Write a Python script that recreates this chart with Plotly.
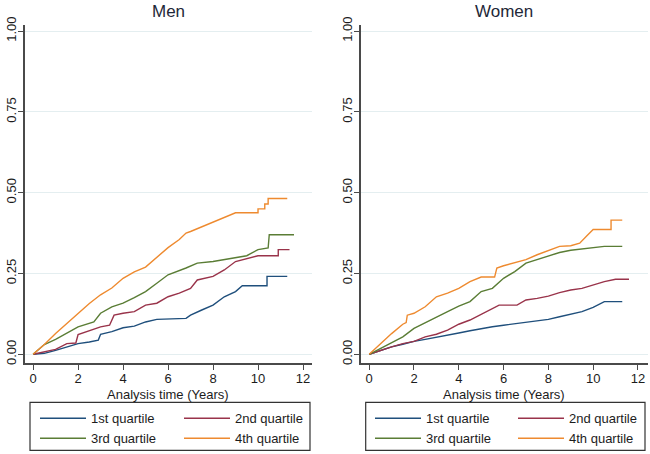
import plotly.graph_objects as go

# ---------------- data ----------------
quartiles = ["1st quartile", "2nd quartile", "3rd quartile", "4th quartile"]
colors = ["#1f4f7c", "#99334a", "#5a7d35", "#ee8a2f"]

# Men (time in years, cumulative failure)
men_t_q1 = [0, 0.5, 1, 1.5, 2, 2.5, 2.9, 3.0, 3.5, 4, 4.5, 5, 5.5, 6.8, 7.0, 7.5, 8, 8.5, 9, 9.3, 10.4, 10.4, 11.3]
men_y_q1 = [0, 0.003, 0.012, 0.023, 0.033, 0.038, 0.044, 0.062, 0.07, 0.082, 0.087, 0.1, 0.108, 0.111, 0.121, 0.137, 0.152, 0.178, 0.194, 0.212, 0.212, 0.241, 0.241]

men_t_q2 = [0, 0.5, 1, 1.5, 1.9, 2.0, 2.5, 3, 3.4, 3.6, 4, 4.5, 5, 5.5, 6, 6.5, 7, 7.3, 8, 8.5, 9, 9.5, 10, 10.9, 10.9, 11.4]
men_y_q2 = [0, 0.008, 0.015, 0.033, 0.035, 0.061, 0.073, 0.085, 0.09, 0.121, 0.127, 0.132, 0.152, 0.158, 0.178, 0.189, 0.204, 0.23, 0.241, 0.261, 0.287, 0.295, 0.305, 0.305, 0.324, 0.324]

men_t_q3 = [0, 0.5, 1, 1.5, 2, 2.7, 3, 3.5, 4, 4.5, 5, 5.5, 6, 6.8, 7.3, 8, 9, 9.5, 10, 10.45, 10.5, 11.6]
men_y_q3 = [0, 0.03, 0.046, 0.065, 0.085, 0.1, 0.127, 0.147, 0.158, 0.175, 0.194, 0.22, 0.246, 0.267, 0.282, 0.287, 0.298, 0.305, 0.324, 0.329, 0.37, 0.37]

men_t_q4 = [0, 0.5, 1, 1.5, 2, 2.5, 3, 3.5, 4, 4.5, 5, 5.5, 6, 6.5, 6.8, 7, 7.5, 8, 8.5, 9, 10, 10, 10.3, 10.3, 10.45, 10.45, 11.3]
men_y_q4 = [0, 0.03, 0.064, 0.095, 0.127, 0.157, 0.184, 0.205, 0.235, 0.255, 0.27, 0.3, 0.33, 0.355, 0.375, 0.38, 0.395, 0.41, 0.425, 0.438, 0.438, 0.45, 0.45, 0.465, 0.465, 0.482, 0.482]

# Women
wom_t_q1 = [0, 0.5, 1, 1.5, 2, 2.5, 3, 3.5, 4, 4.5, 5, 5.5, 6, 6.5, 7, 7.5, 8, 8.5, 9, 9.5, 10, 10.5, 11.3]
wom_y_q1 = [0, 0.012, 0.023, 0.031, 0.04, 0.046, 0.052, 0.059, 0.066, 0.073, 0.08, 0.085, 0.09, 0.095, 0.099, 0.104, 0.108, 0.116, 0.123, 0.132, 0.145, 0.163, 0.163]

wom_t_q2 = [0, 0.5, 1, 1.5, 2, 2.5, 3, 3.5, 4, 4.5, 5, 5.5, 5.8, 6.6, 7, 7.5, 8, 8.5, 9, 9.5, 10, 10.5, 11, 11.6]
wom_y_q2 = [0, 0.012, 0.023, 0.033, 0.04, 0.054, 0.062, 0.075, 0.093, 0.106, 0.124, 0.142, 0.152, 0.152, 0.168, 0.173, 0.18, 0.191, 0.199, 0.204, 0.215, 0.225, 0.232, 0.232]

wom_t_q3 = [0, 0.5, 1, 1.5, 2, 2.5, 3, 3.5, 4, 4.5, 5, 5.5, 6, 6.5, 7, 7.5, 8, 8.5, 9, 9.5, 10, 10.5, 11.3]
wom_y_q3 = [0, 0.018, 0.035, 0.054, 0.08, 0.098, 0.114, 0.132, 0.149, 0.163, 0.194, 0.204, 0.235, 0.256, 0.282, 0.293, 0.303, 0.315, 0.322, 0.326, 0.329, 0.334, 0.334]

wom_t_q4 = [0, 0.5, 1, 1.5, 1.65, 1.7, 2, 2.5, 3, 3.5, 4, 4.5, 5, 5.6, 5.7, 6, 6.5, 7, 7.5, 8, 8.5, 9, 9.4, 9.7, 10, 10.8, 10.8, 11.3]
wom_y_q4 = [0, 0.033, 0.064, 0.093, 0.098, 0.121, 0.127, 0.147, 0.178, 0.189, 0.204, 0.225, 0.239, 0.239, 0.267, 0.274, 0.284, 0.293, 0.308, 0.322, 0.334, 0.336, 0.344, 0.365, 0.386, 0.386, 0.415, 0.415]

x_ticks = [0, 2, 4, 6, 8, 10, 12]
y_ticks = [0, 0.25, 0.5, 0.75, 1.0]
y_ticktext = ["0.00", "0.25", "0.50", "0.75", "1.00"]
panel_titles = ["Men", "Women"]
x_title = "Analysis time (Years)"

# ---------------- figure ----------------
W, H = 650, 454
ML, MR, MT, MB = 25, 2, 25, 91.3
PW = W - ML - MR
PH = H - MT - MB

def px_x(p):
    return (p - ML) / PW

def px_y(p):
    return (H - MB - p) / PH

FONT = "Liberation Sans, Arial, sans-serif"
TXT = "#1c1c1c"

fig = go.Figure()

men = [(men_t_q1, men_y_q1), (men_t_q2, men_y_q2), (men_t_q3, men_y_q3), (men_t_q4, men_y_q4)]
wom = [(wom_t_q1, wom_y_q1), (wom_t_q2, wom_y_q2), (wom_t_q3, wom_y_q3), (wom_t_q4, wom_y_q4)]

men_legends = ["legend", "legend2", "legend", "legend2"]
wom_legends = ["legend3", "legend4", "legend3", "legend4"]

for i, (t, y) in enumerate(men):
    fig.add_trace(go.Scatter(x=t, y=y, mode="lines", name=quartiles[i],
                             line=dict(color=colors[i], width=1.4),
                             xaxis="x", yaxis="y", legend=men_legends[i]))
for i, (t, y) in enumerate(wom):
    fig.add_trace(go.Scatter(x=t, y=y, mode="lines", name=quartiles[i],
                             line=dict(color=colors[i], width=1.4),
                             xaxis="x2", yaxis="y2", legend=wom_legends[i]))

axis_common = dict(showline=True, linecolor="#4a4a4a", linewidth=1.6,
                   ticks="outside", ticklen=5, tickwidth=1.2, tickcolor="#4a4a4a",
                   tickfont=dict(size=13, color=TXT, family=FONT), zeroline=False)

xdom_men = [px_x(25), px_x(312)]
xdom_wom = [px_x(360.7), px_x(648)]

fig.update_layout(
    width=W, height=H,
    margin=dict(l=ML, r=MR, t=MT, b=MB, autoexpand=False),
    paper_bgcolor="white", plot_bgcolor="white",
    font=dict(family=FONT, size=13, color=TXT),
    showlegend=True,
    xaxis=dict(domain=xdom_men, range=[-0.36, 12.4], tickvals=x_ticks, showgrid=False,
               ticklabelstandoff=-2, anchor="y", **axis_common),
    yaxis=dict(domain=[0, 1], range=[-0.027, 1.019], tickvals=y_ticks, ticktext=y_ticktext,
               tickangle=-90, ticklabelstandoff=-3, showgrid=True, gridcolor="#e4eef0",
               gridwidth=1, anchor="x", **axis_common),
    xaxis2=dict(domain=xdom_wom, range=[-0.38, 12.45], tickvals=x_ticks, showgrid=False,
                ticklabelstandoff=-2, anchor="y2", **axis_common),
    yaxis2=dict(domain=[0, 1], range=[-0.027, 1.019], tickvals=y_ticks, ticktext=y_ticktext,
                tickangle=-90, ticklabelstandoff=-3, showgrid=True, gridcolor="#e4eef0",
                gridwidth=1, anchor="x2", **axis_common),
)

leg_common = dict(orientation="v", xref="paper", yref="paper",
                  xanchor="left", yanchor="top", bgcolor="rgba(0,0,0,0)",
                  borderwidth=0, tracegroupgap=0, itemwidth=46,
                  font=dict(size=13, color=TXT, family=FONT), itemclick=False, itemdoubleclick=False)
leg_top = px_y(403)
fig.update_layout(
    legend=dict(x=px_x(35), y=leg_top, **leg_common),
    legend2=dict(x=px_x(179), y=leg_top, **leg_common),
    legend3=dict(x=px_x(370), y=leg_top, **leg_common),
    legend4=dict(x=px_x(513), y=leg_top, **leg_common),
)

# legend frames
for (x0, x1) in [(30, 310), (365.7, 645)]:
    fig.add_shape(type="rect", xref="paper", yref="paper",
                  x0=px_x(x0), x1=px_x(x1), y0=px_y(450), y1=px_y(402),
                  line=dict(color="#333333", width=1.2), fillcolor="rgba(0,0,0,0)")

# panel titles and x-axis titles
for title, dom, xa in zip(panel_titles, [xdom_men, xdom_wom], ["x", "x2"]):
    fig.add_annotation(text=title, x=(dom[0] + dom[1]) / 2, y=px_y(12), xref="paper", yref="paper",
                       showarrow=False, xanchor="center", yanchor="middle",
                       font=dict(size=17, color="#1e2838", family=FONT))
    fig.add_annotation(text=x_title, x=6, xref=xa, y=px_y(385), yref="paper",
                       showarrow=False, xanchor="center", yanchor="top",
                       font=dict(size=13, color=TXT, family=FONT))

fig.write_html("out.html",
               config={"displayModeBar": False},
               post_script="document.body.style.margin='0px';document.body.style.overflow='hidden';")
